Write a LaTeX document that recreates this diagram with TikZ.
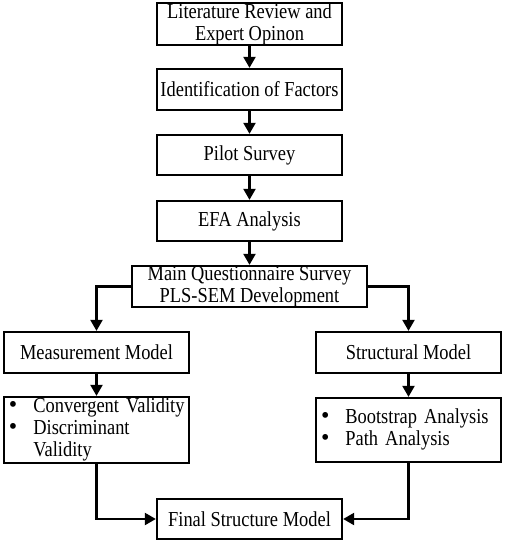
\documentclass[tikz,border=0pt]{standalone}
\usepackage{fontspec}
\setmainfont{Liberation Serif}
\newfontfamily\tallserif[FakeStretch=0.865]{Liberation Serif}
\usetikzlibrary{arrows.meta}
\newcommand{\bigbul}{\scalebox{1.3}[1.15]{\textbullet}}
\newcommand{\boxfont}{\tallserif\fontsize{21.3}{22}\selectfont\spaceskip=4.6pt plus 1pt minus 1pt\relax}
\tikzset{
  box/.style={draw=black, line width=2.3pt, fill=white, minimum width=185pt, minimum height=40pt, inner sep=0pt, align=center, font=\boxfont},
  listbox/.style={box, minimum height=64pt, text width=175pt, inner xsep=5pt, align=left},
  arr/.style={line width=2.2pt, -{Triangle[length=11pt,width=12pt]}}
}
\begin{document}
\begin{tikzpicture}[x=1pt,y=-1pt]
\useasboundingbox (0,0) rectangle (505,546);
\node[box] (lit) at (249.5,24) {Literature Review and\\Expert Opinon};
\node[box, minimum height=41pt] (ident) at (249.5,89.5) {Identification of Factors};
\node[box] (pilot) at (249.5,155) {Pilot Survey};
\node[box] (efa) at (249.5,221) {EFA Analysis};
\node[box, minimum width=235pt, minimum height=41pt] (main) at (249.5,286.5) {Main Questionnaire Survey\\PLS-SEM Development};
\node[box, minimum height=41pt] (meas) at (96.5,352.5) {Measurement Model};
\node[box, minimum height=41pt] (struct) at (408.5,352.5) {Structural Model};
\node[listbox] (conv) at (96.5,430) {\begin{tabular}{@{}l@{\hspace{16pt}}l@{}}\bigbul & Convergent Validity\\ \bigbul & Discriminant\\ & Validity\end{tabular}};
\node[listbox] (boot) at (408.5,430) {\begin{tabular}{@{}l@{\hspace{16pt}}l@{}}\bigbul & Bootstrap Analysis\\ \bigbul & Path Analysis\end{tabular}};
\node[box] (final) at (249.5,519) {Final Structure Model};
\draw[arr] (lit) -- (ident);
\draw[arr] (ident) -- (pilot);
\draw[arr] (pilot) -- (efa);
\draw[arr] (efa) -- (main);
\draw[arr] (main.west) -| (meas.north);
\draw[arr] (main.east) -| (struct.north);
\draw[arr] (meas) -- (conv);
\draw[arr] (struct) -- (boot);
\draw[arr] (conv.south) |- (final.west);
\draw[arr] (boot.south) |- (final.east);
\end{tikzpicture}
\end{document}
